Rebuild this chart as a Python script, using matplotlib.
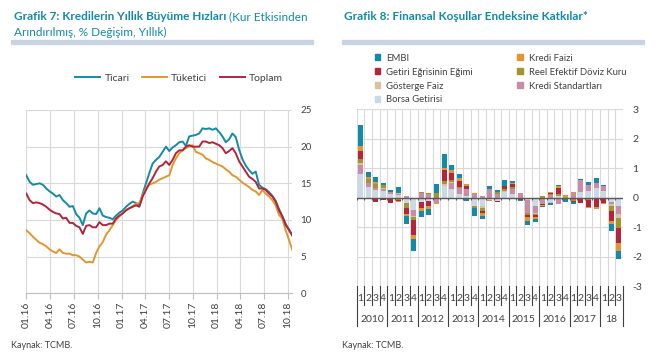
import matplotlib
matplotlib.use("Agg")
import matplotlib.pyplot as plt
import numpy as np
import pandas as pd
from matplotlib.patches import Patch, Rectangle

plt.rcParams["font.family"] = ["Lato", "DejaVu Sans"]
plt.rcParams["axes.unicode_minus"] = False

# ---- Grafik 7: credit growth (% yoy) ----
ticari = [16.1, 15.2, 14.8, 14.9, 15.0, 14.8, 14.3, 13.9, 13.6, 13.2, 13.4, 12.7, 12.3, 11.8,
          11.9, 10.8, 10.3, 9.3, 10.9, 11.3, 10.9, 10.8, 11.6, 10.6, 10.4, 10.3, 10.1, 10.6,
          11.0, 11.3, 11.8, 12.2, 12.5, 12.3, 12.0, 13.6, 15.0, 16.4, 17.7, 18.2, 18.6, 19.3,
          20.0, 19.4, 19.9, 20.2, 20.6, 20.7, 20.1, 21.4, 21.5, 21.6, 21.8, 22.5, 22.4, 22.5,
          22.3, 22.5, 22.0, 21.4, 20.6, 21.0, 21.8, 21.3, 19.6, 18.3, 17.4, 16.8, 16.3, 16.6,
          14.8, 14.4, 14.2, 13.8, 13.3, 12.6, 11.5, 10.5, 9.5, 8.6, 7.9]
toplam = [13.6, 12.7, 12.3, 12.4, 12.3, 12.1, 11.8, 11.4, 11.1, 10.9, 10.8, 10.2, 10.3, 9.6,
          9.6, 9.2, 9.0, 8.1, 9.2, 9.3, 9.0, 9.0, 9.7, 9.3, 9.3, 9.5, 9.5, 10.2, 10.6, 10.9,
          11.3, 11.6, 11.8, 12.0, 11.8, 13.2, 14.1, 15.0, 15.7, 16.6, 17.3, 17.5, 18.0, 17.5,
          18.2, 19.1, 19.5, 19.5, 20.0, 20.2, 20.0, 20.0, 20.0, 20.7, 20.7, 20.5, 20.6, 20.4,
          20.2, 19.8, 19.1, 19.4, 19.8, 19.1, 18.0, 17.3, 16.6, 15.9, 15.6, 15.2, 14.3, 14.3,
          14.1, 13.6, 13.2, 12.5, 11.3, 10.5, 9.3, 8.7, 7.9]
tuketici = [8.6, 8.2, 7.7, 7.3, 6.9, 6.7, 6.4, 6.0, 5.7, 5.5, 6.0, 5.5, 5.4, 5.4, 5.2, 5.2,
            5.0, 4.6, 4.2, 4.3, 4.2, 5.5, 6.4, 7.0, 8.0, 8.6, 9.3, 10.0, 10.5, 10.9, 11.4,
            11.6, 11.9, 12.2, 12.3, 13.4, 14.3, 14.8, 15.0, 15.2, 15.5, 15.7, 15.9, 16.1,
            17.5, 18.4, 19.1, 19.5, 19.8, 20.0, 20.2, 19.3, 19.1, 18.9, 18.4, 18.2, 17.9,
            17.7, 17.5, 17.3, 16.9, 16.6, 16.1, 15.9, 15.5, 15.1, 14.8, 14.5, 14.1, 13.9,
            13.4, 14.1, 13.6, 13.2, 12.7, 12.0, 10.7, 10.2, 8.6, 7.3, 5.9]
line_start, line_end = "2016-01-01", "2018-10-19"

# ---- Grafik 8: contributions to financial conditions index ----
quarter_labels = ["1", "2", "3", "4"] * 8 + ["1", "2", "3"]
year_labels = ["2010", "2011", "2012", "2013", "2014", "2015", "2016", "2017", "18"]
borsa = [0.80, 0.36, 0.25, 0.22, 0.11, 0.10, -0.17, -0.42, -0.16, -0.11, 0.00, 0.40,
         0.29, 0.12, 0.06, -0.30, -0.30, -0.08, -0.10, 0.18, 0.12, 0.00, -0.07, -0.28,
         -0.02, -0.16, 0.05, 0.00, 0.00, 0.19, 0.22, 0.33, 0.22, -0.16, -0.28]
kredi_std = [0.31, 0.13, 0.07, 0.08, 0.09, 0.03, 0.05, -0.20, 0.15, 0.14, -0.17, 0.00,
             0.20, 0.20, 0.23, 0.12, 0.05, 0.29, 0.12, 0.00, 0.16, 0.15, -0.44, -0.23,
             -0.20, 0.08, -0.22, 0.00, 0.16, 0.41, 0.20, 0.17, 0.18, -0.07, -0.27]
gosterge = [0.05, 0.00, 0.02, 0.02, 0.00, 0.04, -0.02, -0.04, 0.00, 0.00, 0.00, 0.07,
            0.04, 0.00, 0.00, 0.00, -0.06, 0.00, 0.02, 0.05, 0.00, 0.00, 0.00, -0.03,
            0.00, -0.02, 0.00, 0.00, 0.00, 0.00, 0.00, 0.00, 0.00, -0.05, -0.13]
reel_kur = [0.15, 0.16, 0.13, 0.12, 0.00, -0.08, -0.17, -0.10, 0.03, 0.03, 0.17, 0.10,
            0.07, 0.05, -0.04, -0.06, -0.11, 0.00, 0.04, 0.07, 0.07, -0.04, -0.08, -0.05,
            0.05, 0.05, 0.09, 0.00, -0.11, 0.00, -0.07, 0.00, 0.00, -0.17, -0.34]
getiri = [0.28, 0.00, -0.16, -0.08, -0.18, -0.03, -0.19, -0.50, -0.20, -0.19, 0.00, 0.37,
          0.24, 0.19, 0.11, 0.00, -0.06, 0.00, -0.04, 0.10, 0.12, -0.04, -0.06, -0.06,
          -0.04, 0.04, 0.18, 0.00, -0.05, -0.17, -0.24, -0.32, -0.17, -0.33, -0.51]
kredi_faizi = [0.16, 0.05, 0.05, 0.00, 0.00, -0.03, -0.06, -0.14, -0.09, -0.08, -0.03, 0.07,
               0.10, 0.11, 0.06, 0.03, -0.11, -0.02, 0.00, -0.03, 0.04, 0.00, -0.13, -0.07,
               -0.03, 0.02, 0.06, 0.08, 0.02, -0.02, -0.04, -0.06, -0.03, -0.12, -0.28]
embi = [0.71, 0.18, 0.19, 0.06, 0.06, 0.19, -0.29, -0.40, -0.22, -0.20, 0.29, 0.47,
        0.16, 0.13, -0.06, -0.26, -0.08, 0.11, 0.08, 0.20, 0.06, -0.04, -0.15, -0.10,
        -0.04, -0.08, 0.06, -0.16, -0.07, 0.03, 0.11, 0.17, 0.03, -0.23, -0.27]

TEAL = "#138aa9"
TXT = "#404040"
GRID = "#d9d9d9"

fig = plt.figure(figsize=(6.6, 3.63), dpi=100)
W, H = 660.0, 363.0


def fx(px):
    return px / W


def fy(py):
    return 1 - py / H


# ---------- left chart ----------
ax1 = fig.add_axes([fx(26.3), fy(293.3), fx(292.3 - 26.3), (293.3 - 110) / H])
dates = pd.date_range(line_start, line_end, periods=len(ticari))
ax1.plot(dates, ticari, color=TEAL, lw=1.4, label="Ticari")
ax1.plot(dates, tuketici, color="#e3962f", lw=1.4, label="Tüketici")
ax1.plot(dates, toplam, color="#b4243a", lw=1.4, label="Toplam")
ax1.set_xlim(dates[0], dates[-1])
ax1.set_ylim(0, 25)
ax1.set_yticks(range(0, 26, 5))
ticks = pd.date_range("2016-01-01", "2018-10-01", freq="QS")
ax1.set_xticks(ticks)
ax1.set_xticklabels([d.strftime("%m.%y") for d in ticks], rotation=90)
ax1.yaxis.tick_right()
ax1.tick_params(axis="y", length=0, pad=6, labelsize=7, labelcolor=TXT)
ax1.tick_params(axis="x", length=4, color="#bfbfbf", pad=2, labelsize=7.5, labelcolor=TXT)
ax1.grid(True, color=GRID, lw=0.8)
ax1.set_axisbelow(True)
for s in ["top", "left", "right"]:
    ax1.spines[s].set_visible(False)
ax1.spines["bottom"].set_color("#bfbfbf")
ax1.legend(loc="center", bbox_to_anchor=(fx(179), fy(78)), bbox_transform=fig.transFigure,
           ncol=3, frameon=False, fontsize=7.5, handlelength=2.4, handletextpad=0.4,
           columnspacing=1.2, labelcolor=TXT)

# ---------- right chart ----------
ax2 = fig.add_axes([fx(356.7), fy(286), fx(622.7 - 356.7), (286 - 109.3) / H])
x = np.arange(len(quarter_labels))
parts = [
    ("Borsa Getirisi", borsa, "#c9d9e6"),
    ("Kredi Standartları", kredi_std, "#c98ba8"),
    ("Gösterge Faiz", gosterge, "#d8c19c"),
    ("Reel Efektif Döviz Kuru", reel_kur, "#a19431"),
    ("Getiri Eğrisinin Eğimi", getiri, "#b4243a"),
    ("Kredi Faizi", kredi_faizi, "#e3962f"),
    ("EMBI", embi, TEAL),
]
pos_base = np.zeros(len(x))
neg_base = np.zeros(len(x))
handles = {}
for name, vals, col in parts:
    v = np.array(vals)
    pos = np.where(v > 0, v, 0)
    neg = np.where(v < 0, v, 0)
    ax2.bar(x, pos, bottom=pos_base, width=0.66, color=col, zorder=2)
    ax2.bar(x, neg, bottom=neg_base, width=0.66, color=col, zorder=2)
    pos_base += pos
    neg_base += neg
    handles[name] = Patch(color=col)

ax2.set_xlim(-0.5, len(x) - 0.5)
ax2.set_ylim(-3, 3)
ax2.set_yticks(range(-3, 4))
ax2.yaxis.tick_right()
ax2.tick_params(axis="y", length=0, pad=7, labelsize=7.5, labelcolor=TXT)
ax2.set_xticks([])
bounds = np.arange(-0.5, len(x), 1)
for b in bounds:
    ax2.axvline(b, color=GRID, lw=0.8, zorder=0)
ax2.grid(axis="y", color=GRID, lw=0.8, zorder=0)
ax2.set_axisbelow(True)
for s in ax2.spines.values():
    s.set_visible(False)
ax2.axhline(0, color="#595959", lw=1.0, zorder=3)
ax2.vlines(bounds, -0.08, 0, color="#595959", lw=0.8, zorder=3)

# multi-level category axis
trans = ax2.get_xaxis_transform()
for xi, q in zip(x, quarter_labels):
    ax2.text(xi, -0.068, q, transform=trans, ha="center", va="center", fontsize=7.5, color=TXT)
year_start = [0, 4, 8, 12, 16, 20, 24, 28, 32]
year_end = [4, 8, 12, 16, 20, 24, 28, 32, 35]
for lab, a, b in zip(year_labels, year_start, year_end):
    ax2.text((a + b - 1) / 2, -0.187, lab, transform=trans, ha="center", va="center",
             fontsize=7.5, color=TXT)
for b in bounds:
    is_year = (b + 0.5) in year_start or b == bounds[-1]
    ax2.plot([b, b], [0, -0.226 if is_year else -0.11], transform=trans, color="#404040",
             lw=0.8, clip_on=False)

order = ["EMBI", "Getiri Eğrisinin Eğimi", "Gösterge Faiz", "Borsa Getirisi",
         "Kredi Faizi", "Reel Efektif Döviz Kuru", "Kredi Standartları"]
ax2.legend([handles[n] for n in order], order, loc="upper left",
           bbox_to_anchor=(fx(370), fy(49)), bbox_transform=fig.transFigure,
           ncol=2, frameon=False, fontsize=6.8, handlelength=0.6, handleheight=0.6,
           handletextpad=0.6, labelspacing=0.52, columnspacing=4.7, borderpad=0,
           labelcolor=TXT)

# ---------- titles, header bars, sources ----------
fig.canvas.draw()
r = fig.canvas.get_renderer()
t1 = fig.text(fx(14), fy(17), "Grafik 7: Kredilerin Yıllık Büyüme Hızları", fontsize=8.5,
              fontweight="bold", color=TEAL, va="center")
bb = t1.get_window_extent(renderer=r)
fig.text(bb.x1 / W + fx(3), fy(17), "(Kur Etkisinden", fontsize=8.5, color=TEAL, va="center")
fig.text(fx(14), fy(32), "Arındırılmış, % Değişim, Yıllık)", fontsize=8.5, color=TEAL, va="center")
fig.text(fx(344), fy(16), "Grafik 8: Finansal Koşullar Endeksine Katkılar*", fontsize=8.5,
         fontweight="bold", color=TEAL, va="center")
fig.patches.append(Rectangle((fx(11), fy(44)), fx(313 - 11), 3.5 / H, transform=fig.transFigure,
                             color="#c8d3e2", zorder=0))
fig.patches.append(Rectangle((fx(342), fy(44)), fx(644 - 342), 3.5 / H, transform=fig.transFigure,
                             color="#c8d3e2", zorder=0))
fig.text(fx(11), fy(346), "Kaynak: TCMB.", fontsize=6.5, color=TXT, va="center")
fig.text(fx(342), fy(346), "Kaynak: TCMB.", fontsize=6.5, color=TXT, va="center")

fig.savefig("out.png", dpi=100, facecolor="white")
